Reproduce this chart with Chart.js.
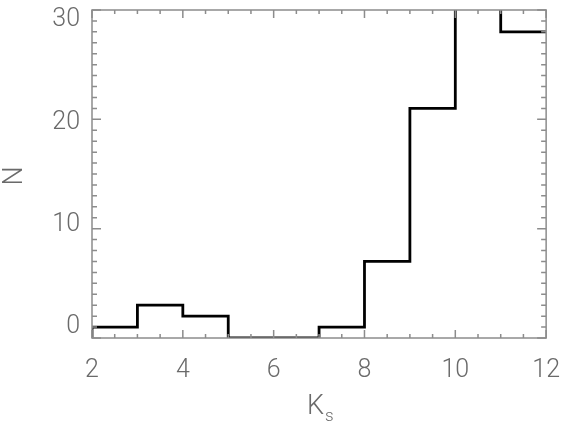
<!DOCTYPE html>
<html>
<head>
<meta charset="utf-8">
<script src="https://cdn.jsdelivr.net/npm/chart.js@4.4.1/dist/chart.umd.min.js"></script>
<style>
  html, body { margin: 0; padding: 0; background: #fff; }
  #wrap { width: 570px; height: 435px; }
</style>
</head>
<body>
<div id="wrap"><canvas id="hist"></canvas></div>
<script>
// histogram of Ks magnitudes
const binEdges = [2, 3, 4, 5, 6, 7, 8, 9, 10, 11, 12];
const counts   = [1, 3, 2, 0, 0, 1, 7, 21, 35, 28];   // bin 10-11 runs off the top
const xTicks   = [2, 4, 6, 8, 10, 12];
const yTicks   = [0, 10, 20, 30];

const FONT = '"Roboto", "DejaVu Sans", sans-serif';
const TEXT = '#6a6a6a';
const FRAME = '#8c8c8c';

// step points: start at 0 on the left edge, then one point per bin edge
const stepData = [{ x: binEdges[0], y: 0 }];
binEdges.forEach((e, i) => {
    const c = i < counts.length ? counts[i] : counts[counts.length - 1];
    stepData.push({ x: e, y: c });
});

// frame, inward ticks, y labels and axis titles
const framePlugin = {
    id: 'frame',
    afterDraw(chart) {
        const { ctx, chartArea: a, scales } = chart;
        const xs = scales.x, ys = scales.y;
        ctx.save();
        ctx.strokeStyle = FRAME;
        ctx.lineWidth = 1.5;
        ctx.strokeRect(a.left, a.top, a.right - a.left, a.bottom - a.top);

        ctx.beginPath();
        for (let v = 2; v <= 12.001; v += 0.5) {
            const px = xs.getPixelForValue(v);
            const len = (v % 2 === 0) ? 8 : 4;
            ctx.moveTo(px, a.bottom); ctx.lineTo(px, a.bottom - len);
            ctx.moveTo(px, a.top);    ctx.lineTo(px, a.top + len);
        }
        for (let v = 0; v <= 30; v += 1) {
            const py = ys.getPixelForValue(v);
            const len = (v % 10 === 0) ? 9 : 5;
            ctx.moveTo(a.left, py);  ctx.lineTo(a.left + len, py);
            ctx.moveTo(a.right, py); ctx.lineTo(a.right - len, py);
        }
        ctx.stroke();

        ctx.fillStyle = TEXT;
        // y labels sit a little off their ticks in the original
        ctx.font = '300 25px ' + FONT;
        ctx.textAlign = 'right';
        ctx.textBaseline = 'middle';
        yTicks.forEach(v => {
            const off = -11 + 21 * v / 30;
            ctx.fillText(String(v), a.left - 12, ys.getPixelForValue(v) + off);
        });

        // axis titles
        ctx.textBaseline = 'alphabetic';
        ctx.textAlign = 'left';
        ctx.font = '300 27px ' + FONT;
        ctx.fillText('K', 307, 414);
        ctx.font = '300 17px ' + FONT;
        ctx.fillText('s', 325, 421);

        ctx.translate(22, 176);
        ctx.rotate(-Math.PI / 2);
        ctx.font = '300 27px ' + FONT;
        ctx.textAlign = 'center';
        ctx.fillText('N', 0, 0);
        ctx.restore();
    }
};

new Chart(document.getElementById('hist'), {
    type: 'line',
    data: {
        datasets: [{
            data: stepData,
            stepped: 'before',
            borderColor: '#000',
            borderWidth: 2.8,
            pointRadius: 0,
            fill: false
        }]
    },
    options: {
        responsive: true,
        maintainAspectRatio: false,
        animation: false,
        layout: { padding: { top: 10, right: 21, left: 0, bottom: 0 } },
        plugins: { legend: { display: false }, tooltip: { enabled: false } },
        scales: {
            x: {
                type: 'linear',
                min: 2, max: 12,
                afterFit(s) { s.height = 97; },
                afterBuildTicks(s) { s.ticks = xTicks.map(v => ({ value: v })); },
                grid: { display: false },
                border: { display: false },
                ticks: { color: TEXT, font: { family: FONT, size: 25, weight: 300 }, padding: 10, maxRotation: 0 }
            },
            y: {
                min: 0, max: 30,
                afterFit(s) { s.width = 92; },
                afterBuildTicks(s) { s.ticks = yTicks.map(v => ({ value: v })); },
                grid: { display: false },
                border: { display: false },
                ticks: { display: false }
            }
        }
    },
    plugins: [framePlugin]
});
</script>
</body>
</html>
